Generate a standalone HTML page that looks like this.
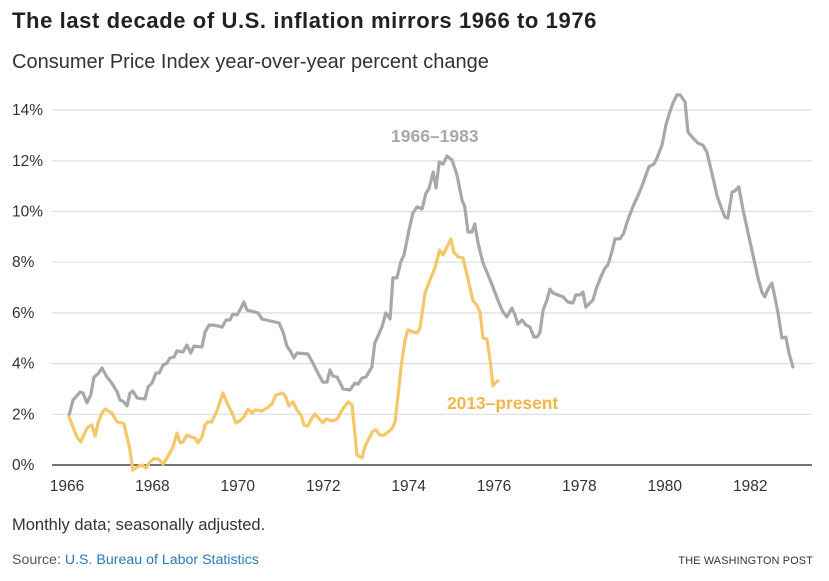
<!DOCTYPE html>
<html><head><meta charset="utf-8">
<style>
body{margin:0;background:#fff;width:829px;height:581px;overflow:hidden;font-family:"Liberation Sans",sans-serif;}
.t{position:absolute;white-space:nowrap;}
</style></head>
<body>
<div class="t" style="left:12px;top:8px;font-size:22px;font-weight:bold;color:#222;letter-spacing:0.6px;">The last decade of U.S. inflation mirrors 1966 to 1976</div>
<div class="t" style="left:12px;top:51px;font-size:20px;color:#333;">Consumer Price Index year-over-year percent change</div>
<svg id="chart" width="829" height="581" style="position:absolute;left:0;top:0;" xmlns="http://www.w3.org/2000/svg"></svg>
<div class="t" style="left:12px;top:516px;font-size:16.5px;color:#333;">Monthly data; seasonally adjusted.</div>
<div class="t" style="left:12px;top:552px;font-size:14.2px;color:#555;">Source: <span style="color:#2a7ab8;">U.S. Bureau of Labor Statistics</span></div>
<div class="t" style="right:16px;top:555px;font-size:10.8px;color:#333;letter-spacing:0.2px;">THE WASHINGTON POST</div>
<script>
const yTicks=[0,2,4,6,8,10,12,14];
const xTicks=[1966,1968,1970,1972,1974,1976,1978,1980,1982];
const greyMonths=[0.6,1.7,3.7,4.5,5.6,6.7,7.6,8.7,9.8,11.2,12.6,14.1,14.9,15.7,16.9,17.7,18.5,19.7,21.9,22.8,23.9,25.0,25.9,27.0,28.1,28.9,30.1,30.9,32.6,33.7,34.8,35.7,37.9,38.8,39.9,41.3,43.6,44.7,45.8,46.6,47.8,48.9,49.7,50.6,53.7,54.8,59.6,60.7,61.8,62.9,63.8,64.6,67.7,69.1,70.5,71.9,73.1,73.9,74.7,75.9,77.6,79.5,80.9,81.8,82.9,84.0,85.7,86.5,88.5,89.6,90.8,91.6,92.7,93.9,94.7,96.1,97.2,98.4,99.8,100.9,101.7,102.9,103.7,104.6,105.7,106.8,108.2,109.6,111.0,111.8,112.7,113.8,114.6,115.5,116.9,118.0,119.7,121.4,122.5,123.6,125.0,125.9,126.7,127.9,129.0,130.1,131.2,132.1,132.9,133.8,134.9,135.7,136.6,139.4,140.8,142.2,143.0,144.2,145.0,145.8,147.8,148.9,150.3,151.2,152.0,153.1,154.0,155.4,156.5,157.4,159.0,160.4,161.9,163.5,164.9,165.8,167.2,168.3,169.4,170.3,171.4,172.3,173.7,174.5,175.9,177.3,178.7,179.8,180.7,181.5,182.7,184.1,184.9,185.7,186.9,187.7,188.8,190.0,191.4,192.8,194.2,195.3,196.1,197.0,198.1,199.0,199.8,200.9,202.0,202.9,204.0];
const greyValues=[1.97,2.56,2.88,2.84,2.45,2.76,3.47,3.59,3.83,3.47,3.23,2.88,2.56,2.52,2.33,2.84,2.92,2.64,2.60,3.08,3.23,3.63,3.63,3.94,4.02,4.22,4.26,4.50,4.46,4.73,4.42,4.69,4.65,5.25,5.52,5.52,5.44,5.72,5.72,5.95,5.92,6.19,6.43,6.11,6.00,5.76,5.60,5.25,4.69,4.46,4.22,4.42,4.38,4.02,3.63,3.27,3.27,3.75,3.51,3.47,3.00,2.96,3.23,3.19,3.43,3.47,3.87,4.81,5.44,6.00,5.76,7.38,7.38,8.05,8.28,9.27,9.94,10.18,10.10,10.73,10.89,11.56,10.93,11.95,11.87,12.19,12.03,11.44,10.45,10.18,9.19,9.19,9.51,8.76,7.97,7.61,7.02,6.39,6.04,5.84,6.19,5.92,5.56,5.72,5.52,5.44,5.05,5.05,5.21,6.11,6.51,6.94,6.78,6.63,6.43,6.39,6.71,6.71,6.82,6.23,6.51,7.02,7.50,7.77,7.89,8.40,8.92,8.92,9.15,9.59,10.18,10.61,11.12,11.76,11.87,12.11,12.62,13.41,13.93,14.28,14.60,14.60,14.32,13.14,12.90,12.70,12.62,12.35,11.83,11.36,10.61,10.06,9.78,9.74,10.77,10.81,10.97,10.06,9.15,8.28,7.38,6.82,6.63,6.94,7.18,6.59,6.00,5.01,5.05,4.42,3.87];
const goldMonths=[0.6,1.7,2.8,3.9,5.1,5.9,7.0,7.9,8.7,9.8,10.7,12.6,14.1,15.5,16.0,16.9,17.7,18.5,19.7,21.1,22.2,23.3,24.4,25.6,27.0,28.1,29.2,29.8,30.9,31.8,32.6,33.7,35.1,36.0,36.8,37.9,38.8,39.6,40.7,42.2,43.8,45.0,46.4,47.5,48.6,49.7,50.9,52.0,52.8,54.8,56.2,57.6,58.7,60.7,61.5,62.4,63.5,64.6,65.8,66.6,67.7,68.8,69.7,71.9,72.8,74.7,75.9,77.3,79.0,80.1,80.6,81.5,82.9,83.7,84.9,86.0,86.8,88.0,89.1,90.2,91.3,92.2,93.0,93.9,95.0,95.8,97.2,98.4,99.2,100.6,102.0,103.4,104.7,105.7,106.8,107.9,108.7,109.9,111.3,112.1,113.2,114.1,115.2,116.1,116.9,118.0,118.9,119.7,120.5,121.1];
const goldValues=[1.89,1.50,1.10,0.91,1.30,1.50,1.58,1.14,1.66,2.05,2.21,2.05,1.70,1.66,1.62,1.10,0.59,-0.20,-0.08,0.00,-0.12,0.12,0.24,0.24,0.04,0.28,0.55,0.71,1.26,0.87,0.91,1.18,1.10,1.06,0.87,1.10,1.58,1.70,1.70,2.17,2.84,2.45,2.05,1.66,1.74,1.89,2.21,2.05,2.17,2.13,2.25,2.41,2.76,2.84,2.68,2.33,2.49,2.17,1.97,1.58,1.54,1.85,2.01,1.66,1.81,1.74,1.81,2.17,2.49,2.37,1.66,0.39,0.28,0.71,1.06,1.34,1.38,1.18,1.18,1.30,1.42,1.70,2.68,3.87,4.93,5.33,5.25,5.21,5.40,6.78,7.30,7.77,8.48,8.28,8.60,8.92,8.40,8.21,8.17,7.69,7.02,6.47,6.31,6.00,5.01,4.97,4.14,3.12,3.27,3.31];

const svg=document.getElementById('chart');
const NS='http://www.w3.org/2000/svg';
function xScale(year){return 67+(year-1966)*42.7;}
function xMonth(m){return xScale(1966+m/12);}
function yScale(v){return 465-v*25.35;}
function mk(tag,attrs){const e=document.createElementNS(NS,tag);for(const k in attrs)e.setAttribute(k,attrs[k]);svg.appendChild(e);return e;}

yTicks.forEach(v=>{
  const l=mk('line',{x1:52,x2:812,y1:yScale(v),y2:yScale(v),stroke:v===0?'#222':'#ddd','stroke-width':v===0?1.3:1.2});
  
  
  const t=mk('text',{x:12,y:yScale(v)+5,'font-size':15.5,fill:'#333','font-family':'Liberation Sans, sans-serif'});
  t.textContent=v+'%';
  
  
});
xTicks.forEach(y=>{
  const t=mk('text',{x:xScale(y),y:491,'font-size':15.5,fill:'#333','text-anchor':'middle','font-family':'Liberation Sans, sans-serif'});
  t.textContent=y;
  
  
});
function line(ms,vs,color,name){
  const d=ms.map((m,i)=>(i?'L':'M')+xMonth(m).toFixed(1)+','+yScale(vs[i]).toFixed(1)).join('');
  const p=mk('path',{d:d,fill:'none',stroke:color,'stroke-width':3.2,'stroke-linejoin':'round','stroke-linecap':'round'});
  
  
}
line(greyMonths,greyValues,'#a8a8a8','series-1966-1983');
line(goldMonths,goldValues,'#f5c76a','series-2013-present');
const l1=mk('text',{x:391,y:142,'font-size':17.5,'font-weight':'bold',fill:'#a8a8a8','font-family':'Liberation Sans, sans-serif'});
l1.textContent='1966–1983';


const l2=mk('text',{x:447,y:409,'font-size':17.4,'font-weight':'bold',fill:'#efb64a','font-family':'Liberation Sans, sans-serif'});
l2.textContent='2013–present';


</script>
</body></html>
